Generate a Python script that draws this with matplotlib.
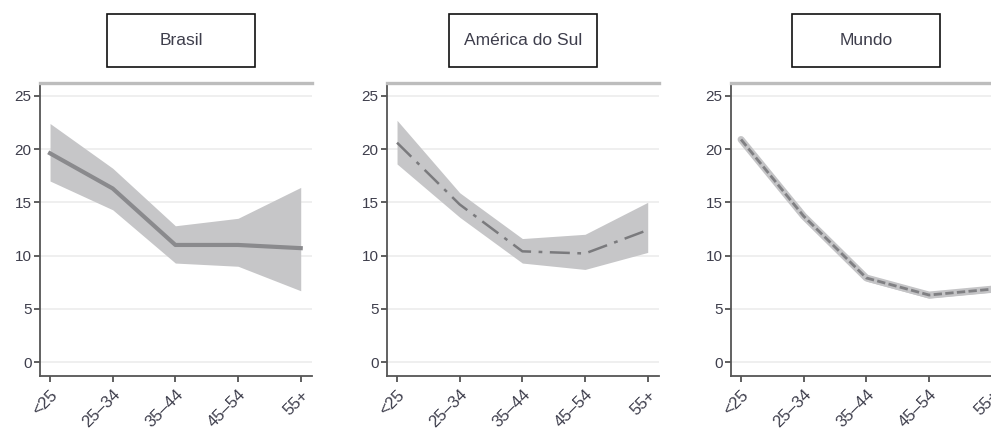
import matplotlib
matplotlib.use("Agg")
import matplotlib.pyplot as plt
from matplotlib.patches import Rectangle

plt.rcParams['font.family'] = ['Liberation Sans', 'DejaVu Sans']

ages = ['<25', '25–34', '35–44', '45–54', '55+']
titles = ['Brasil', 'América do Sul', 'Mundo']

# Brasil
br_mid = [19.6, 16.3, 11.0, 11.0, 10.7]
br_hi = [22.4, 18.2, 12.8, 13.5, 16.4]
br_lo = [17.0, 14.3, 9.3, 9.0, 6.7]
# America do Sul
sa_mid = [20.6, 14.8, 10.4, 10.2, 12.4]
sa_hi = [22.7, 15.9, 11.6, 12.0, 15.0]
sa_lo = [18.6, 13.6, 9.3, 8.7, 10.3]
# Mundo
wd_mid = [20.9, 13.7, 7.9, 6.3, 6.85]
wd_hi = [21.2, 14.0, 8.2, 6.6, 7.15]
wd_lo = [20.6, 13.4, 7.6, 6.0, 6.55]

series = [(br_mid, br_hi, br_lo, '-', 3.0, '#8a8a8d'),
          (sa_mid, sa_hi, sa_lo, (0, (8, 3, 1.5, 3)), 1.8, '#7a7a7d'),
          (wd_mid, wd_hi, wd_lo, (0, (3, 1.2)), 2.0, '#808083')]

fig = plt.figure(figsize=(9.91, 4.29), dpi=100)
lefts = [40 / 991, 387 / 991, 731 / 991]
boxes = [107 / 991, 449 / 991, 792 / 991]
bottom, height = 1 - 376 / 429, (376 - 83) / 429
width = 272 / 991
txt = '#3e3e4c'
x = list(range(len(ages)))

for i, (mid, hi, lo, ls, lw, col) in enumerate(series):
    ax = fig.add_axes([lefts[i], bottom, width, height])
    ax.fill_between(x, lo, hi, color='#c6c6c8', linewidth=0, zorder=2)
    if i == 2:
        ax.plot(x, mid, color='#c4c4c6', lw=5, solid_capstyle='round', zorder=3)
    ax.plot(x, mid, color=col, lw=lw, linestyle=ls, zorder=4)
    ax.set_xlim(-0.16, 4.18)
    ax.set_ylim(-1.3, 26.2)
    ax.set_yticks([0, 5, 10, 15, 20, 25])
    ax.set_xticks(x)
    ax.set_xticklabels(ages, rotation=45, ha='right', va='top',
                       rotation_mode='anchor', fontsize=12, color=txt)
    for lab in ax.get_yticklabels():
        lab.set_fontsize(11)
        lab.set_color(txt)
    ax.grid(axis='y', color='#ececec', lw=1.2, zorder=0)
    ax.tick_params(axis='both', direction='out', length=4, width=1.2, color='#444444', pad=2)
    ax.tick_params(axis='x', pad=4)
    ax.spines['right'].set_visible(False)
    ax.spines['top'].set_color('#bdbdbd')
    ax.spines['top'].set_linewidth(2.4)
    ax.spines['left'].set_color('#555555')
    ax.spines['left'].set_linewidth(1.3)
    ax.spines['bottom'].set_color('#555555')
    ax.spines['bottom'].set_linewidth(1.3)

    bx = boxes[i]
    fig.add_artist(Rectangle((bx, 1 - 67 / 429), 148 / 991, 53 / 429, transform=fig.transFigure,
                             fill=False, edgecolor='#111111', linewidth=1.2))
    fig.text(bx + 74 / 991, 1 - 40.5 / 429, titles[i], ha='center', va='center',
             fontsize=12.5, color=txt)

fig.savefig('out.png', dpi=100)
